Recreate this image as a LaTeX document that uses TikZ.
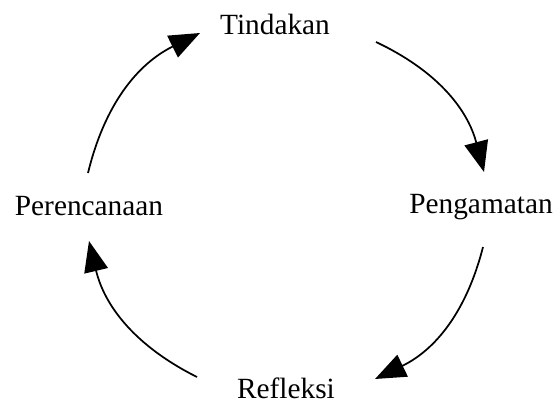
\documentclass[tikz,border=0pt]{standalone}
\usepackage{fontspec}
\setmainfont{Liberation Serif}
\usetikzlibrary{arrows.meta}
\begin{document}
\begin{tikzpicture}[x=0.75pt,y=-0.75pt,
  lbl/.style={anchor=base,inner sep=0pt,font=\fontsize{22}{26}\selectfont},
  cyc/.style={line width=1.3pt,-{Triangle[length=23pt,width=18pt]},bend left=25}]
\useasboundingbox (0,0) rectangle (554,403);
\node[lbl] (t) at (275,35) {Tindakan};
\node[lbl] (p) at (481,214) {Pengamatan};
\node[lbl] (r) at (286,398) {Refleksi};
\node[lbl] (c) at (89,215) {Perencanaan};
\coordinate (a1s) at (376,42);  \coordinate (a1e) at (484,172);
\coordinate (a2s) at (483,247); \coordinate (a2e) at (375,379);
\coordinate (a3s) at (197,377); \coordinate (a3e) at (89,241);
\coordinate (a4s) at (88,173);  \coordinate (a4e) at (200,33);
\draw[cyc] (a1s) to (a1e);
\draw[cyc] (a2s) to (a2e);
\draw[cyc] (a3s) to (a3e);
\draw[cyc] (a4s) to (a4e);
\end{tikzpicture}
\end{document}
